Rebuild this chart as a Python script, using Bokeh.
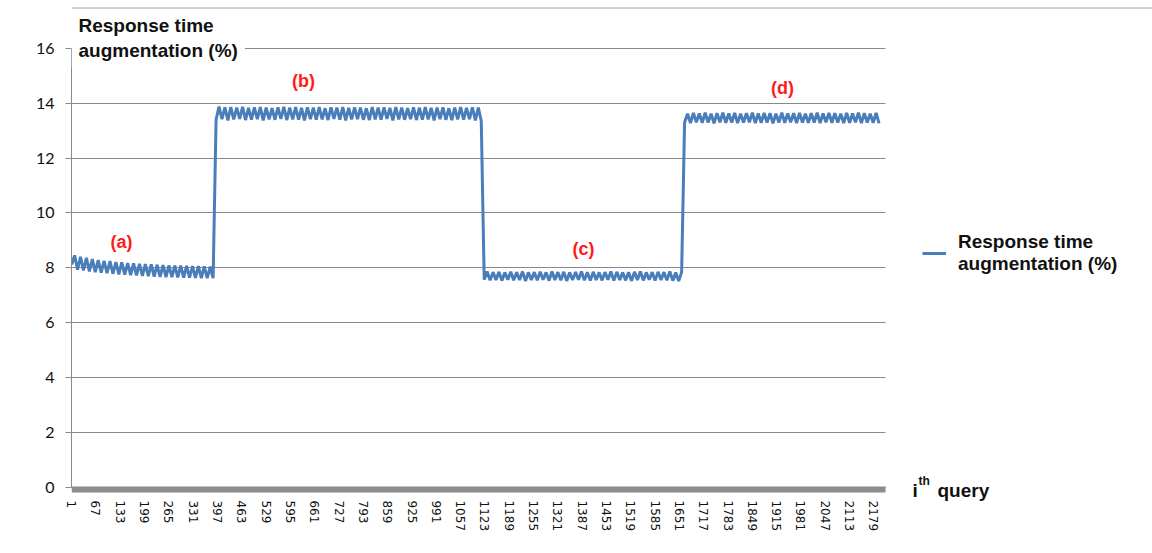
from bokeh.plotting import figure
from bokeh.models import (Range1d, FixedTicker, Label, Legend, LegendItem,
                          ColumnDataSource, Grid, LinearAxis, Span)
from bokeh.embed import file_html
from bokeh.resources import INLINE

# ---------------- data ----------------
# x axis: i-th query, tick labels every 66 queries
tick_queries = list(range(1, 2180, 66))
y_ticks = [0, 2, 4, 6, 8, 10, 12, 14, 16]
N_QUERIES = 2210
QUERY_STEP = 8  # recorded extremes every 8 queries (alternating low / high)

# phase (a)
troughs_a = [8.12, 7.93, 7.90, 7.87, 7.84, 7.82, 7.80, 7.78, 7.76, 7.75,
             7.73, 7.72, 7.70, 7.69, 7.68, 7.67, 7.66, 7.66, 7.65, 7.64,
             7.64, 7.63, 7.62, 7.62, 7.62]
peaks_a = [8.45, 8.40, 8.36, 8.32, 8.28, 8.25, 8.24, 8.21, 8.20, 8.17,
           8.16, 8.14, 8.13, 8.12, 8.11, 8.10, 8.09, 8.08, 8.08, 8.07,
           8.06, 8.06, 8.05, 8.04]
# phase (b)
troughs_b = [13.40, 13.42, 13.38, 13.41, 13.43, 13.39, 13.40, 13.42, 13.38, 13.41,
             13.40, 13.43, 13.39, 13.41, 13.40, 13.38, 13.42, 13.40, 13.41, 13.39,
             13.43, 13.40, 13.38, 13.41, 13.42, 13.40, 13.39, 13.41, 13.40, 13.43,
             13.38, 13.41, 13.40, 13.42, 13.39, 13.40, 13.41, 13.38, 13.42, 13.40,
             13.39, 13.41, 13.40, 13.42, 13.38, 13.36]
peaks_b = [13.88, 13.85, 13.86, 13.84, 13.87, 13.83, 13.85, 13.86, 13.84, 13.82,
           13.85, 13.87, 13.84, 13.86, 13.83, 13.85, 13.84, 13.86, 13.82, 13.85,
           13.84, 13.86, 13.83, 13.85, 13.84, 13.82, 13.86, 13.84, 13.85, 13.83,
           13.86, 13.84, 13.82, 13.85, 13.84, 13.86, 13.83, 13.84, 13.85, 13.82,
           13.84, 13.86, 13.83, 13.85, 13.84]
# phase (c)
troughs_c = [7.56, 7.54, 7.55, 7.53, 7.56, 7.54, 7.55, 7.52, 7.55, 7.54,
             7.56, 7.53, 7.55, 7.54, 7.52, 7.55, 7.56, 7.54, 7.53, 7.55,
             7.54, 7.56, 7.53, 7.55, 7.54, 7.52, 7.55, 7.54, 7.56, 7.53,
             7.55, 7.54, 7.53, 7.52]
peaks_c = [7.86, 7.84, 7.85, 7.83, 7.85, 7.84, 7.86, 7.83, 7.84, 7.85,
           7.83, 7.86, 7.84, 7.85, 7.83, 7.84, 7.86, 7.84, 7.85, 7.83,
           7.84, 7.86, 7.85, 7.83, 7.84, 7.85, 7.86, 7.83, 7.84, 7.85,
           7.84, 7.86, 7.83, 7.84]
# phase (d)
troughs_d = [13.30, 13.28, 13.31, 13.29, 13.30, 13.27, 13.31, 13.29, 13.30, 13.28,
             13.30, 13.31, 13.28, 13.29, 13.30, 13.27, 13.30, 13.29, 13.31, 13.28,
             13.30, 13.29, 13.30, 13.28, 13.31, 13.29, 13.30, 13.28, 13.29, 13.31,
             13.28, 13.30, 13.29, 13.27]
peaks_d = [13.62, 13.65, 13.63, 13.66, 13.62, 13.64, 13.66, 13.63, 13.65, 13.62,
           13.64, 13.66, 13.63, 13.65, 13.64, 13.62, 13.66, 13.63, 13.64, 13.65,
           13.62, 13.64, 13.66, 13.63, 13.65, 13.64, 13.62, 13.65, 13.63, 13.66,
           13.64, 13.62, 13.65]

phase_names = ["(a)", "(b)", "(c)", "(d)"]


def interleave(lows, highs):
    out = []
    for i, v in enumerate(lows):
        out.append(v)
        if i < len(highs):
            out.append(highs[i])
    return out


values = (interleave(troughs_a, peaks_a) + interleave(troughs_b, peaks_b)
          + interleave(troughs_c, peaks_c) + interleave(troughs_d, peaks_d))
queries = [1 + QUERY_STEP * i for i in range(len(values))]
src = ColumnDataSource(dict(q=queries, v=values))

# ---------------- geometry (page pixels) ----------------
W, H = 1152, 553
FL, FR = 71, 885          # plot area left / right
Y16, Y0 = 48, 486.5       # pixel rows of 16 and 0
FB = 504                  # frame bottom (= H - min_border_bottom)
PXU = (Y0 - Y16) / 16.0
XPU = (FR - FL) / N_QUERIES


def xd(px):
    return 0.5 + (px - FL) / XPU


def yd(py):
    return (Y0 - py) / PXU


p = figure(width=W, height=H, output_backend="svg", toolbar_location=None,
           x_range=Range1d(0.5, xd(W)), y_range=Range1d(yd(FB), yd(0)),
           min_border_left=FL, min_border_right=0, min_border_top=0,
           min_border_bottom=H - FB)
p.title.visible = False
p.outline_line_color = None
p.background_fill_color = "white"
p.border_fill_color = "white"

GRID = "#898989"
p.xgrid.visible = False
yg = p.ygrid[0]
yg.ticker = FixedTicker(ticks=y_ticks)
yg.grid_line_color = GRID
yg.grid_line_width = 1
if "cross_bounds" in Grid.properties():
    yg.cross_bounds = (0.5, N_QUERIES + 0.5)
else:
    yg.visible = False
    p.segment(x0=[0.5] * len(y_ticks), x1=[N_QUERIES + 0.5] * len(y_ticks),
              y0=y_ticks, y1=y_ticks, line_color=GRID, line_width=1, level="underlay")

ya = p.yaxis[0]
ya.ticker = FixedTicker(ticks=y_ticks)
ya.bounds = (0, 16)
ya.axis_line_color = GRID
ya.major_tick_line_color = GRID
ya.major_tick_out = 6
ya.major_tick_in = 0
ya.minor_tick_line_color = None
ya.major_label_text_font = "Lato"
ya.major_label_text_font_size = "16px"
ya.major_label_text_color = "#111111"
ya.major_label_standoff = 11

# x axis with the query tick labels (at frame bottom, line hidden)
xa = p.xaxis[0]
xa.ticker = FixedTicker(ticks=tick_queries)
xa.bounds = (0.5, N_QUERIES + 0.5)
xa.major_label_orientation = "vertical"
xa.axis_line_color = None
xa.major_tick_line_color = None
xa.minor_tick_line_color = None
xa.major_label_text_font = "DejaVu Sans"
xa.major_label_text_font_size = "12px"
xa.major_label_text_color = "#111111"
xa.major_label_standoff = -10

# thick gray base line of the category axis, at value 0
band = LinearAxis(fixed_location=-0.1, bounds=(0.5, N_QUERIES + 0.5),
                  ticker=FixedTicker(ticks=[]), axis_line_color="#8c8c8c",
                  axis_line_width=6, major_tick_line_color=None,
                  minor_tick_line_color=None, major_label_text_font_size="0px")
p.add_layout(band, "below")

BLUE = "#4a7ebb"
r = p.line("q", "v", source=src, line_color=BLUE, line_width=3)

TITLE_FONT = "Liberation Sans"

p.add_layout(Label(x=xd(71), y=yd(7), text="Response time\naugmentation (%)",
                   text_align="left", text_baseline="top",
                   text_font=TITLE_FONT, text_font_style="bold",
                   text_font_size="19px", text_color="#111111",
                   background_fill_color="white", padding=7))

# thin chart-area border line at the top
p.add_layout(Span(location=yd(7.5), dimension="width", line_color="#a6a6a6", line_width=1))

phase_pos = [(121, 241), (303, 80), (583, 248), (782, 87)]
for name, (px, py) in zip(phase_names, phase_pos):
    p.add_layout(Label(x=xd(px), y=yd(py), text=name, text_align="center",
                       text_baseline="middle", text_font=TITLE_FONT,
                       text_font_style="bold", text_font_size="18px",
                       text_color="#ff1a1a"))

# x axis title: i^th query
p.add_layout(Label(x=xd(912), y=yd(490), text="i", text_baseline="alphabetic",
                   text_font=TITLE_FONT, text_font_style="bold",
                   text_font_size="19px", text_color="#111111"))
p.add_layout(Label(x=xd(918), y=yd(480), text="th", text_baseline="alphabetic",
                   text_font=TITLE_FONT, text_font_style="bold",
                   text_font_size="12px", text_color="#111111"))
p.add_layout(Label(x=xd(937), y=yd(490), text="query", text_baseline="alphabetic",
                   text_font=TITLE_FONT, text_font_style="bold",
                   text_font_size="19px", text_color="#111111"))

legend = Legend(items=[LegendItem(label="Response time\naugmentation (%)", renderers=[r])],
                location=(922 - FL, FB - 275), label_text_font=TITLE_FONT,
                label_text_font_style="bold", label_text_font_size="19px",
                label_text_color="#111111", glyph_width=24, label_standoff=12,
                padding=0, margin=0, border_line_color=None,
                background_fill_alpha=0)
p.add_layout(legend)

open("out.html", "w").write(file_html(p, INLINE))
